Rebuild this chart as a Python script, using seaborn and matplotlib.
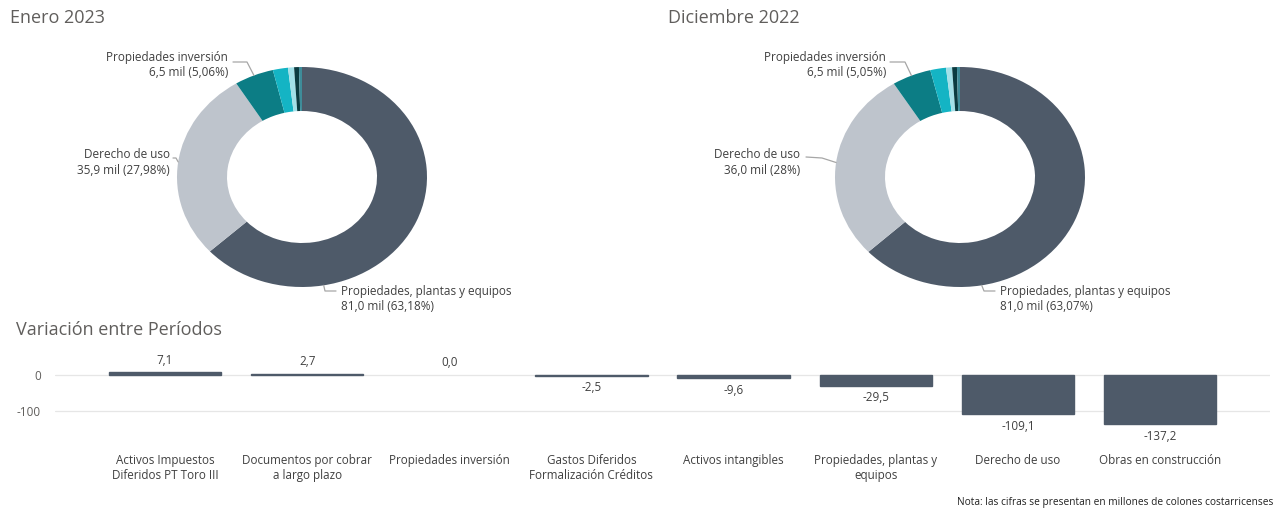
import numpy as np
import pandas as pd
import matplotlib
matplotlib.use("Agg")
import matplotlib.pyplot as plt
from matplotlib.lines import Line2D
import seaborn as sns

# donut data (miles de millones)
segmentos = ["Propiedades, plantas y equipos", "Derecho de uso", "Propiedades inversión",
             "Activos intangibles", "Gastos Diferidos", "Documentos por cobrar", "Otros"]
valores_ene_2023 = [81.0, 35.9, 6.5, 2.5, 1.0, 0.8, 0.5]
valores_dic_2022 = [81.0, 36.0, 6.5, 2.6, 1.0, 0.8, 0.5]
colores_segmentos = ["#4E5A69", "#BEC4CC", "#0C7D85", "#14B4C4", "#A3E0E8", "#0B3B40", "#3E8C99"]
etiquetas_ene_2023 = ["Propiedades, plantas y equipos\n81,0 mil (63,18%)",
                      "Derecho de uso\n35,9 mil (27,98%)",
                      "Propiedades inversión\n6,5 mil (5,06%)"]
etiquetas_dic_2022 = ["Propiedades, plantas y equipos\n81,0 mil (63,07%)",
                      "Derecho de uso\n36,0 mil (28%)",
                      "Propiedades inversión\n6,5 mil (5,05%)"]

# variacion entre periodos
categorias = ["Activos Impuestos\nDiferidos PT Toro III", "Documentos por cobrar\na largo plazo",
              "Propiedades inversión", "Gastos Diferidos\nFormalización Créditos",
              "Activos intangibles", "Propiedades, plantas y\nequipos", "Derecho de uso",
              "Obras en construcción"]
variacion = [7.1, 2.7, 0.0, -2.5, -9.6, -29.5, -109.1, -137.2]

W, H = 1278, 509
GRIS_TEXTO = "#605E5C"
GRIS_LINEA = "#A6A6A6"
COLOR_BARRA = "#4E5A69"

sns.set_theme(style="white")
plt.rcParams["font.family"] = ["Open Sans", "DejaVu Sans"]
plt.rcParams["axes.unicode_minus"] = False

fig = plt.figure(figsize=(W / 100, H / 100), dpi=100)


def px_axes(x0, y0, x1, y1):
    # box from top-left pixel coords
    return fig.add_axes([x0 / W, 1 - y1 / H, (x1 - x0) / W, (y1 - y0) / H])


def leader(ax, ang, pts):
    # polyline from label (pixel coords, top-left origin) to the ring's outer edge
    a = np.deg2rad(ang)
    ex, ey = ax.transData.transform((np.cos(a), np.sin(a)))
    xs = [p[0] for p in pts] + [ex]
    ys = [H - p[1] for p in pts] + [ey]
    fig.add_artist(Line2D(xs, ys, transform=None, color=GRIS_LINEA, lw=0.9))


def donut(box, valores, etiquetas, titulo, titulo_x, lay):
    ax = px_axes(*box)
    ax.pie(valores, colors=colores_segmentos, startangle=90, counterclock=False,
           wedgeprops=dict(width=0.4, edgecolor="none"))
    ax.set_aspect("auto")
    ax.set_xlim(-1, 1)
    ax.set_ylim(-1, 1)
    fig.text(titulo_x / W, 1 - 18 / H, titulo, fontsize=13, color=GRIS_TEXTO, va="center")

    frac = np.cumsum([0] + list(valores)) / sum(valores)
    mids = 90 - 360 * (frac[:-1] + frac[1:]) / 2
    angs = [lay["ppe_ang"], mids[1], mids[2]]
    for i, etq in enumerate(etiquetas):
        tx, ty, ha, pts = lay["labels"][i]
        fig.text(tx / W, 1 - ty / H, etq, fontsize=8.5, color="#404040", ha=ha, va="center",
                 linespacing=1.3)
        leader(ax, angs[i], pts)


lay_ene = {"ppe_ang": -80,
           "labels": [(341, 299, "left", [(336, 291), (325, 291)]),
                      (170, 162, "right", [(173, 158), (176, 158)]),
                      (228, 65, "right", [(233, 62), (247, 62)])]}
lay_dic = {"ppe_ang": -80,
           "labels": [(1000, 299, "left", [(995, 291), (984, 291)]),
                      (800, 162, "right", [(806, 157), (822, 158)]),
                      (886, 65, "right", [(890, 62), (905, 62)])]}

donut((177, 67, 427, 287), valores_ene_2023, etiquetas_ene_2023, "Enero 2023", 10, lay_ene)
donut((835, 67, 1085, 287), valores_dic_2022, etiquetas_dic_2022, "Diciembre 2022", 668, lay_dic)

# bar chart
fig.text(16 / W, 1 - 330 / H, "Variación entre Períodos", fontsize=13, color=GRIS_TEXTO,
         va="center")
axb = px_axes(55, 350, 1270, 435)
df = pd.DataFrame({"categoria": categorias, "variacion": variacion})
sns.barplot(data=df, x="categoria", y="variacion", color=COLOR_BARRA, saturation=1,
            width=0.79, edgecolor=COLOR_BARRA, linewidth=1, ax=axb)
for barra, v in zip(axb.containers[0], variacion):
    if v == 0:
        barra.set_linewidth(0)
axb.set_xlim(-0.774, 7.774)
axb.set_ylim(-166.7, 69.4)
axb.set_yticks([-100, 0])
axb.set_yticklabels(["-100", "0"])
axb.grid(axis="y", color="#E6E6E6", lw=0.9)
axb.set_axisbelow(True)
for s in axb.spines.values():
    s.set_visible(False)
axb.set_xlabel("")
axb.set_ylabel("")
axb.tick_params(axis="y", length=0, pad=10, labelsize=8.5, labelcolor=GRIS_TEXTO)
axb.tick_params(axis="x", length=0, pad=14, labelsize=8.4, labelcolor="#404040")
axb.bar_label(axb.containers[0], labels=[f"{v:.1f}".replace(".", ",") for v in variacion],
              padding=4, fontsize=8.4, color="#404040")

fig.text(1273 / W, 1 - 503 / H,
         "Nota: las cifras se presentan en millones de colones costarricenses",
         fontsize=7.3, color="#202020", ha="right", va="center")

fig.savefig("out.png", dpi=100)
